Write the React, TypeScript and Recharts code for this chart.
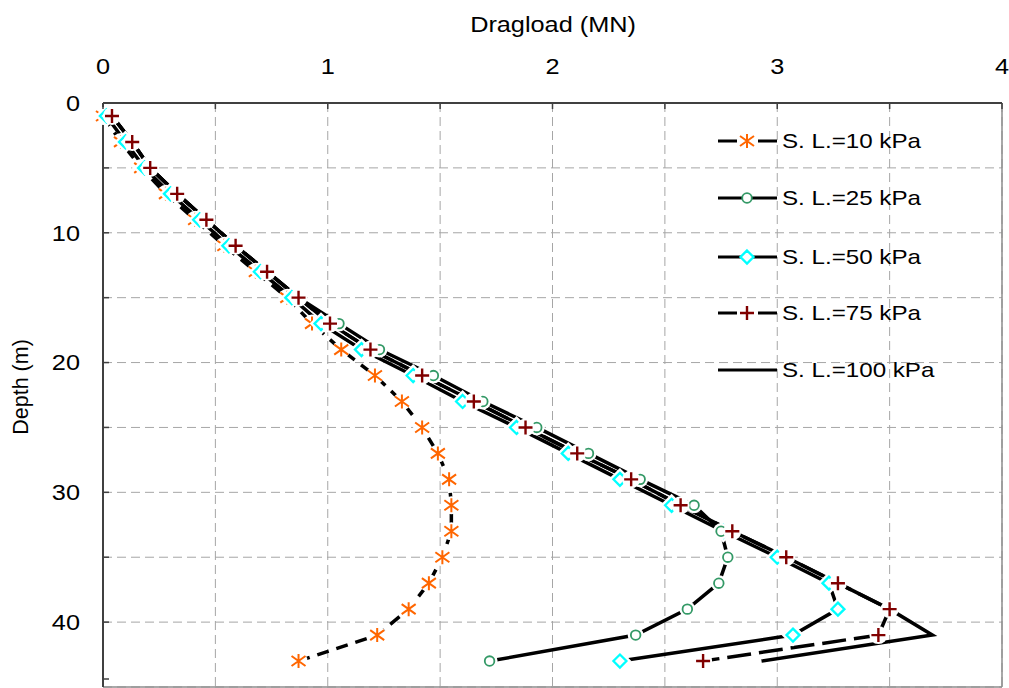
import React from "react";
import {
  ScatterChart,
  Scatter,
  XAxis,
  YAxis,
  CartesianGrid,
  ReferenceLine,
  Legend,
} from "recharts";

// depth of each reading (m)
const DEPTHS = [1, 3, 5, 7, 9, 11, 13, 15, 17, 19, 21, 23, 25, 27, 29, 31, 33, 35, 37, 39, 41, 43];

// dragload (MN) per surcharge load
const SL_10 = [0.0, 0.08, 0.17, 0.28, 0.41, 0.54, 0.68, 0.82, 0.93, 1.06, 1.21, 1.33, 1.42, 1.49, 1.54, 1.55, 1.55, 1.51, 1.45, 1.36, 1.22, 0.87];
const SL_25 = [0.04, 0.13, 0.21, 0.33, 0.46, 0.59, 0.73, 0.87, 1.05, 1.23, 1.47, 1.69, 1.93, 2.16, 2.39, 2.63, 2.75, 2.78, 2.74, 2.6, 2.37, 1.72];
const SL_50 = [0.015, 0.1, 0.185, 0.3, 0.43, 0.56, 0.7, 0.84, 0.97, 1.15, 1.38, 1.6, 1.84, 2.07, 2.3, 2.53, 2.76, 3.0, 3.23, 3.27, 3.07, 2.3];
const SL_75 = [0.04, 0.13, 0.21, 0.33, 0.46, 0.59, 0.73, 0.87, 1.01, 1.19, 1.42, 1.65, 1.88, 2.11, 2.35, 2.57, 2.8, 3.04, 3.27, 3.5, 3.45, 2.67];
const SL_100 = [0.04, 0.13, 0.21, 0.33, 0.46, 0.59, 0.73, 0.87, 1.01, 1.19, 1.42, 1.65, 1.88, 2.11, 2.35, 2.57, 2.8, 3.04, 3.27, 3.5, 3.69, 2.93];

const SERIES_NAMES = ["S. L.=10 kPa", "S. L.=25 kPa", "S. L.=50 kPa", "S. L.=75 kPa", "S. L.=100 kPa"];

const X_TICKS = [0, 0.5, 1, 1.5, 2, 2.5, 3, 3.5, 4];
const Y_TICKS = [0, 5, 10, 15, 20, 25, 30, 35, 40, 45];
const X_LABELS = [0, 1, 2, 3, 4];
const Y_LABELS = [0, 10, 20, 30, 40];

const FONT = "'Liberation Sans', Arial, sans-serif";
const SX = 1.15; // the source text is a little wider than Arial
const AXIS = "#404040";
const PLOT_LEFT = 103;
const PLOT_TOP = 103;

const ORANGE = "#ff6600";
const GREEN = "#339966";
const CYAN = "#00ffff";
const DARKRED = "#800000";

const toPoints = (vals: number[]) => DEPTHS.map((d, i) => ({ depth: d, load: vals[i] }));

const starPath = (cx: number, cy: number) =>
  `M${cx},${cy - 7}V${cy + 7}M${cx - 7},${cy - 5}L${cx + 7},${cy + 5}M${cx - 7},${cy + 5}L${cx + 7},${cy - 5}`;
const plusPath = (cx: number, cy: number) => `M${cx - 7},${cy}H${cx + 7}M${cx},${cy - 7}V${cy + 7}`;
const diamondPath = (cx: number, cy: number) =>
  `M${cx},${cy - 6.5}L${cx + 6.5},${cy}L${cx},${cy + 6.5}L${cx - 6.5},${cy}Z`;

const Star = ({ cx, cy }: any) => (
  <g>
    <circle cx={cx} cy={cy} r={9} fill="#fff" />
    <path d={starPath(cx, cy)} stroke={ORANGE} strokeWidth={2} fill="none" />
  </g>
);
const Ring = ({ cx, cy }: any) => (
  <g>
    <circle cx={cx} cy={cy} r={8} fill="#fff" />
    <circle cx={cx} cy={cy} r={4.8} stroke={GREEN} strokeWidth={1.8} fill="#fff" />
  </g>
);
const Diamond = ({ cx, cy }: any) => (
  <g>
    <path d={diamondPath(cx, cy)} stroke="#fff" strokeWidth={7} fill="#fff" />
    <path d={diamondPath(cx, cy)} stroke={CYAN} strokeWidth={2.3} fill="#fff" />
  </g>
);
const Plus = ({ cx, cy }: any) => (
  <g>
    <circle cx={cx} cy={cy} r={9} fill="#fff" />
    <path d={plusPath(cx, cy)} stroke={DARKRED} strokeWidth={2.4} fill="none" />
  </g>
);
const NoMarker = () => <g />;

const TopTick = ({ x, payload }: any) => {
  const v = payload.value;
  return (
    <g>
      <line x1={x} x2={x} y1={PLOT_TOP} y2={PLOT_TOP + 6} stroke={AXIS} strokeWidth={1.5} />
      {X_LABELS.includes(v) && (
        <text transform={`translate(${x},${PLOT_TOP - 29}) scale(${SX},1)`} textAnchor="middle" fontSize={22} fontFamily={FONT} fill="#000">
          {v}
        </text>
      )}
    </g>
  );
};

const LeftTick = ({ y, payload }: any) => {
  const v = payload.value;
  return (
    <g>
      <line x1={PLOT_LEFT} x2={PLOT_LEFT + 6} y1={y} y2={y} stroke={AXIS} strokeWidth={1.5} />
      {Y_LABELS.includes(v) && (
        <text transform={`translate(${PLOT_LEFT - 23},${y}) scale(${SX},1)`} dy="0.36em" textAnchor="end" fontSize={22} fontFamily={FONT} fill="#000">
          {v}
        </text>
      )}
    </g>
  );
};

const XTitle = () => (
  <text transform={`translate(553,32) scale(${SX},1)`} textAnchor="middle" fontSize={22} fontFamily={FONT} fill="#000">
    Dragload (MN)
  </text>
);

const YTitle = () => (
  <text transform="translate(20.5,387) rotate(-90)" dy="0.36em" textAnchor="middle" fontSize={21.5} fontFamily={FONT} fill="#000">
    Depth (m)
  </text>
);

const LEGEND_ROWS = [20.7, 78.3, 136.7, 193.3, 250];

const LegendSample = ({ i }: { i: number }) => {
  const dashed = i === 0 || i === 3;
  return (
    <svg width={60} height={24} style={{ display: "block" }}>
      {dashed ? (
        <path d="M0,12H19M40,12H59" stroke="#000" strokeWidth={3} />
      ) : (
        <path d="M0,12H59" stroke="#000" strokeWidth={3} />
      )}
      {i === 0 && <path d={starPath(29, 12)} stroke={ORANGE} strokeWidth={2} fill="none" />}
      {i === 1 && <circle cx={29} cy={12} r={4.8} stroke={GREEN} strokeWidth={1.8} fill="#fff" />}
      {i === 2 && <path d={diamondPath(29, 12)} stroke={CYAN} strokeWidth={2.3} fill="#fff" />}
      {i === 3 && <path d={plusPath(29, 12)} stroke={DARKRED} strokeWidth={2.4} fill="none" />}
    </svg>
  );
};

const LegendBox = () => (
  <div style={{ position: "relative", width: 280, height: 270, fontFamily: FONT }}>
    {SERIES_NAMES.map((name, i) => (
      <div
        key={name}
        style={{ position: "absolute", left: 0, top: LEGEND_ROWS[i] - 12, height: 24, display: "flex", alignItems: "center" }}
      >
        <LegendSample i={i} />
        <span
          style={{
            display: "inline-block",
            marginLeft: 4,
            fontSize: 21,
            lineHeight: "24px",
            whiteSpace: "nowrap",
            transform: `scaleX(${SX})`,
            transformOrigin: "left center",
            color: "#000",
          }}
        >
          {name}
        </span>
      </div>
    ))}
  </div>
);

export default function App() {
  const line = (dash?: string) => ({ stroke: "#000", strokeWidth: 3.5, strokeDasharray: dash });
  return (
    <div style={{ position: "absolute", left: 0, top: 0, width: 1009, height: 688, background: "#fff" }}>
      <ScatterChart width={1009} height={688} margin={{ top: 0, right: 7, bottom: 1, left: 0 }}>
        <CartesianGrid stroke="#a6a6a6" strokeDasharray="9 5" />
        <XAxis
          type="number"
          dataKey="load"
          orientation="top"
          domain={[0, 4]}
          ticks={X_TICKS}
          height={103}
          tickSize={0}
          tickMargin={29}
          tickLine={false}
          tick={TopTick}
          axisLine={{ stroke: AXIS, strokeWidth: 2 }}
          label={{ content: XTitle }}
        />
        <YAxis
          type="number"
          dataKey="depth"
          reversed
          domain={[0, 45]}
          ticks={Y_TICKS}
          width={103}
          tickSize={0}
          tickMargin={23}
          tickLine={false}
          tick={LeftTick}
          axisLine={{ stroke: AXIS, strokeWidth: 2 }}
          label={{ content: YTitle }}
        />
        <ReferenceLine x={4} stroke="#8c8c8c" strokeWidth={1.5} />
        <ReferenceLine y={45} stroke="#8c8c8c" strokeWidth={1.5} />

        {/* lines first */}
        <Scatter name={SERIES_NAMES[4]} data={toPoints(SL_100)} line={line()} shape={NoMarker} legendType="none" isAnimationActive={false} />
        <Scatter name={SERIES_NAMES[0]} data={toPoints(SL_10)} line={line("12 8")} shape={NoMarker} legendType="none" isAnimationActive={false} />
        <Scatter name={SERIES_NAMES[1]} data={toPoints(SL_25)} line={line()} shape={NoMarker} legendType="none" isAnimationActive={false} />
        <Scatter name={SERIES_NAMES[2]} data={toPoints(SL_50)} line={line()} shape={NoMarker} legendType="none" isAnimationActive={false} />
        <Scatter name={SERIES_NAMES[3]} data={toPoints(SL_75)} line={line("24 8")} shape={NoMarker} legendType="none" isAnimationActive={false} />

        {/* markers on top */}
        <Scatter data={toPoints(SL_10)} shape={Star} legendType="none" isAnimationActive={false} />
        <Scatter data={toPoints(SL_50)} shape={Diamond} legendType="none" isAnimationActive={false} />
        <Scatter data={toPoints(SL_25)} shape={Ring} legendType="none" isAnimationActive={false} />
        <Scatter data={toPoints(SL_75)} shape={Plus} legendType="none" isAnimationActive={false} />

        <Legend
          layout="vertical"
          align="center"
          verticalAlign="middle"
          content={LegendBox}
          wrapperStyle={{ left: 718, top: 120, width: 280, height: 270 }}
        />
      </ScatterChart>
    </div>
  );
}
